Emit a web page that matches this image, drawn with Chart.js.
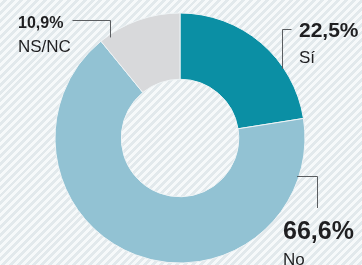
<!DOCTYPE html>
<html>
<head>
<meta charset="utf-8">
<script src="https://cdn.jsdelivr.net/npm/chart.js@4/dist/chart.umd.min.js"></script>
<style>
  html, body { margin: 0; padding: 0; }
  body {
    width: 362px; height: 265px; overflow: hidden;
    background: repeating-linear-gradient(135deg, #f6f9fa 0px, #f6f9fa 2.8px, #e2e9ec 2.8px, #e2e9ec 5.6px);
  }
  #wrap { position: relative; width: 362px; height: 265px; }
</style>
</head>
<body>
<div id="wrap"><canvas id="donut" width="362" height="265"></canvas></div>
<script>
// Data
var categories = ['Sí', 'No', 'NS/NC'];
var values = [22.5, 66.6, 10.9];
var valueLabels = ['22,5%', '66,6%', '10,9%'];
var colors = ['#0b8fa4', '#92c2d3', '#d8d9db'];

// label layout per slice: text anchor, font size of the percentage, leader line shape
var labelLayout = [
    { tx: 299, ty: 37, size: 21, nameY: 63, line: 'vertical', lx: 282, ly: 29, hx: 291 },
    { tx: 283, ty: 239, size: 25, nameY: 265, line: 'horizontal', lx: 317, ly: 176, vy: 208 },
    { tx: 18, ty: 28, size: 16, nameY: 52, line: 'vertical', lx: 110, ly: 20, hx: 72 }
];

const leaderLabels = {
    id: 'leaderLabels',
    afterDatasetsDraw(chart) {
        const ctx = chart.ctx;
        const arcs = chart.getDatasetMeta(0).data;
        ctx.save();
        arcs.forEach(function(arc, i) {
            const L = labelLayout[i];
            const cx = arc.x, cy = arc.y, r = arc.outerRadius;
            ctx.strokeStyle = '#5a5d60';
            ctx.lineWidth = 1;
            ctx.beginPath();
            if (L.line == 'vertical') {
                // drop down to the outer edge of the arc
                const dx = L.lx - cx;
                const ey = cy - Math.sqrt(r * r - dx * dx) + 3;
                ctx.moveTo(L.hx + 0.5, L.ly + 0.5);
                ctx.lineTo(L.lx + 0.5, L.ly + 0.5);
                ctx.lineTo(L.lx + 0.5, ey);
            } else {
                const dy = L.ly - cy;
                const ex = cx + Math.sqrt(r * r - dy * dy) - 2;
                ctx.moveTo(ex, L.ly + 0.5);
                ctx.lineTo(L.lx + 0.5, L.ly + 0.5);
                ctx.lineTo(L.lx + 0.5, L.vy);
            }
            ctx.stroke();

            ctx.fillStyle = '#1f1f21';
            ctx.textBaseline = 'alphabetic';
            ctx.textAlign = 'left';
            ctx.font = 'bold ' + L.size + 'px "Liberation Sans", Arial, sans-serif';
            ctx.fillText(valueLabels[i], L.tx, L.ty);
            ctx.font = '17px "Liberation Sans", Arial, sans-serif';
            ctx.fillText(categories[i], L.tx, L.nameY);
        });
        ctx.restore();
    }
};

window.onload = function() {
    const ctx = document.getElementById('donut').getContext('2d');
    new Chart(ctx, {
        type: 'doughnut',
        data: {
            labels: categories,
            datasets: [{
                data: values,
                backgroundColor: colors,
                borderColor: '#eef3f5',
                borderWidth: 1
            }]
        },
        options: {
            responsive: false,
            animation: false,
            cutout: '47%',
            layout: { padding: { left: 54.5, right: 56.5, top: 12.5, bottom: 1.5 } },
            plugins: {
                legend: { display: false },
                tooltip: { enabled: false }
            },
            events: []
        },
        plugins: [leaderLabels]
    });
};
</script>
</body>
</html>
